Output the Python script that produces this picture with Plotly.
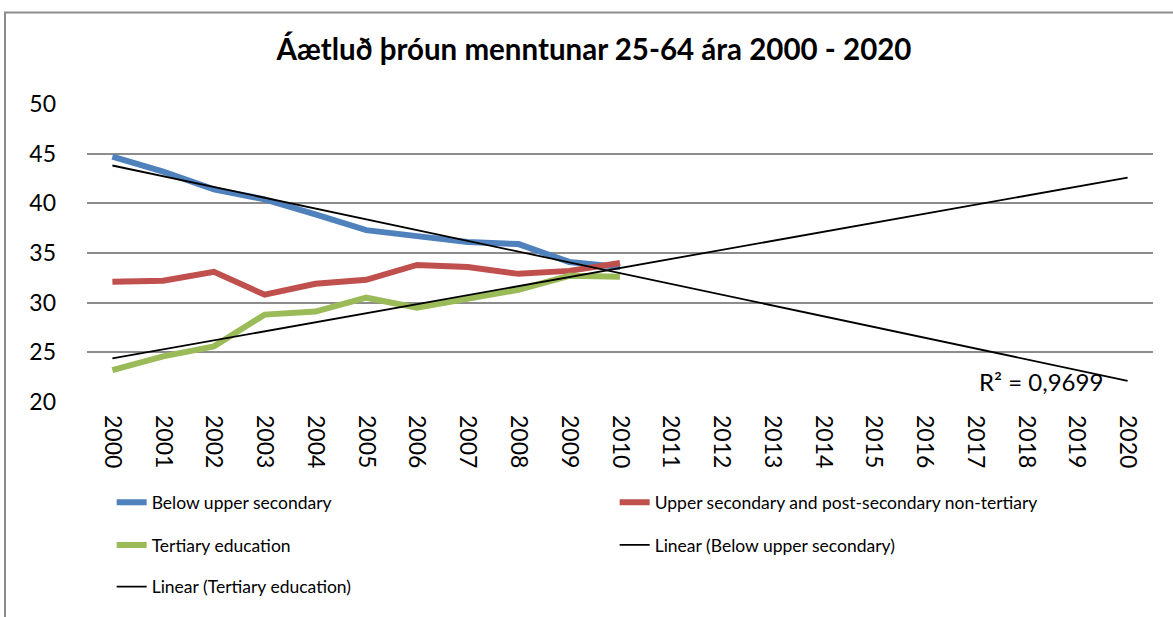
import numpy as np
import plotly.graph_objects as go

years = [str(y) for y in range(2000, 2021)]
data_years = years[:11]
below_upper_secondary = [44.7, 43.2, 41.4, 40.4, 38.9, 37.3, 36.7, 36.1, 35.9, 34.1, 33.6]
upper_secondary = [32.1, 32.2, 33.1, 30.8, 31.9, 32.3, 33.8, 33.6, 32.9, 33.2, 34.0]
tertiary = [23.2, 24.6, 25.6, 28.8, 29.1, 30.5, 29.5, 30.4, 31.3, 32.7, 32.6]

title = "Áætluð þróun menntunar 25-64 ára 2000 - 2020"
r2_label = "R² = 0,9699"

FONT = "Lato, 'Open Sans', sans-serif"
BLUE, RED, GREEN = "#4F81BD", "#C0504D", "#9BBB59"

# linear trendlines fitted to data, extended to 2020
xi = np.arange(len(data_years))
xall = np.arange(len(years))
b1 = np.polyfit(xi, below_upper_secondary, 1)
t1 = np.polyfit(xi, tertiary, 1)
trend_below = np.polyval(b1, xall)
trend_tert = np.polyval(t1, xall)

fig = go.Figure()
fig.add_trace(go.Scatter(x=data_years, y=below_upper_secondary, mode="lines",
                         name="Below upper secondary", line=dict(color=BLUE, width=6),
                         legend="legend"))
fig.add_trace(go.Scatter(x=data_years, y=upper_secondary, mode="lines",
                         name="Upper secondary and post-secondary non-tertiary",
                         line=dict(color=RED, width=6), legend="legend"))
fig.add_trace(go.Scatter(x=data_years, y=tertiary, mode="lines",
                         name="Tertiary education", line=dict(color=GREEN, width=6),
                         legend="legend2"))
fig.add_trace(go.Scatter(x=years, y=trend_below, mode="lines",
                         name="Linear (Below upper secondary)",
                         line=dict(color="black", width=1.8), legend="legend2"))
fig.add_trace(go.Scatter(x=years, y=trend_tert, mode="lines",
                         name="Linear (Tertiary education)",
                         line=dict(color="black", width=1.8), legend="legend3"))

leg_common = dict(orientation="h", xanchor="left", yanchor="middle",
                  font=dict(family=FONT, size=17.5, color="black"),
                  entrywidth=458, entrywidthmode="pixels",
                  bgcolor="rgba(0,0,0,0)", x=0.01 + 14 / 1066)

fig.update_layout(
    width=1173, height=617,
    margin=dict(l=87, r=20, t=104, b=213),
    paper_bgcolor="white", plot_bgcolor="white",
    font=dict(family=FONT, color="black"),
    title=dict(text=title, x=594 / 1173, xanchor="center", y=1 - 50 / 617, yanchor="middle",
               font=dict(family=FONT, size=29.5, color="black", weight="bold")),
    xaxis=dict(type="category", categoryorder="array", categoryarray=years,
               range=[-0.5, 20.5],
               tickangle=90, showgrid=False, showline=False, zeroline=False,
               tickfont=dict(family=FONT, size=23, color="black"),
               ticks="", ticklabelstandoff=12, fixedrange=True),
    yaxis=dict(range=[20, 50], dtick=5, tick0=20, showgrid=True, gridcolor="#8C8C8C",
               gridwidth=1.5, zeroline=False, showline=False,
               tickfont=dict(family=FONT, size=23, color="black"),
               ticks="", ticklabelstandoff=30),
    showlegend=True,
    legend=dict(**leg_common, y=(404 - 505) / 300),
    legend2=dict(**leg_common, y=(404 - 548) / 300),
    legend3=dict(**leg_common, y=(404 - 590) / 300),
    annotations=[dict(text=r2_label, x=18.3, y=22.1, xref="x", yref="y",
                      showarrow=False, font=dict(family=FONT, size=24, color="black"))],
    shapes=[dict(type="rect", xref="paper", yref="paper",
                 x0=(5 - 87) / 1066, x1=1.2, y0=-1.0, y1=(404 - 12) / 300,
                 line=dict(color="#8C8C8C", width=2), fillcolor="rgba(0,0,0,0)", layer="below")],
)

fig.write_html("out.html", config={"displayModeBar": False},
               post_script="document.body.style.margin='0px';")
